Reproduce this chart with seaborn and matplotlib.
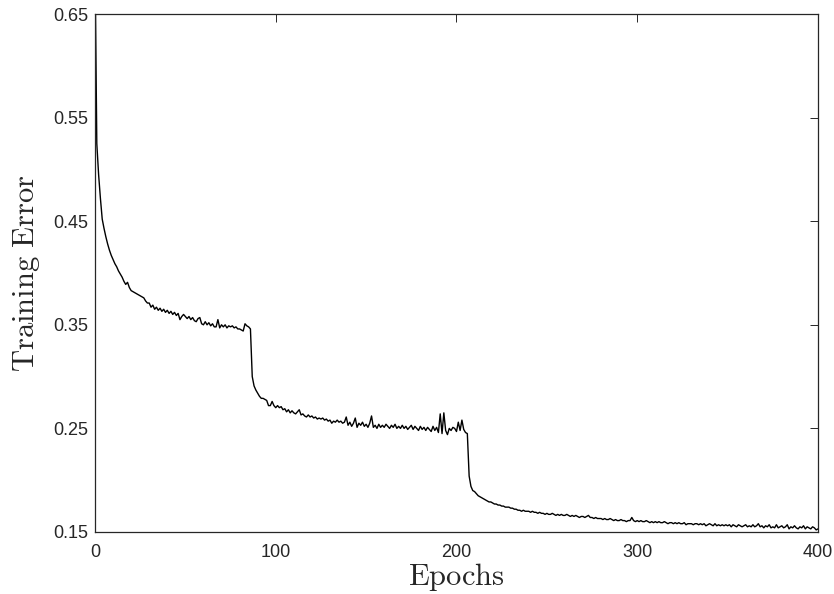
import numpy as np
import pandas as pd
import seaborn as sns
import matplotlib
matplotlib.use("Agg")
import matplotlib.pyplot as plt

# training error per epoch
# phase 1: epochs 0-86
err_phase1 = [
    0.700, 0.525, 0.495, 0.472, 0.452, 0.443, 0.435, 0.428, 0.422, 0.417,
    0.413, 0.409, 0.406, 0.402, 0.399, 0.396, 0.392, 0.389, 0.391, 0.386,
    0.383, 0.382, 0.381, 0.380, 0.379, 0.378, 0.377, 0.376, 0.373, 0.371,
    0.371, 0.367, 0.369, 0.365, 0.367, 0.364, 0.366, 0.363, 0.365, 0.362,
    0.364, 0.361, 0.363, 0.360, 0.362, 0.359, 0.361, 0.355, 0.358, 0.360,
    0.358, 0.356, 0.358, 0.355, 0.357, 0.354, 0.353, 0.356, 0.357, 0.351,
    0.350, 0.353, 0.350, 0.352, 0.349, 0.351, 0.348, 0.348, 0.355, 0.347,
    0.350, 0.348, 0.350, 0.347, 0.349, 0.348, 0.349, 0.347, 0.348, 0.346,
    0.346, 0.345, 0.344, 0.351, 0.349, 0.348, 0.346,
]
# phase 2: epochs 87-206
err_phase2 = [
    0.300, 0.291, 0.287,
    0.284, 0.281, 0.279, 0.279, 0.278, 0.277, 0.272, 0.272, 0.276, 0.272,
    0.270, 0.272, 0.270, 0.271, 0.268, 0.269, 0.266, 0.268, 0.265, 0.267,
    0.265, 0.264, 0.266, 0.268, 0.263, 0.264, 0.262, 0.261, 0.263, 0.261,
    0.262, 0.260, 0.261, 0.259, 0.260, 0.259, 0.260, 0.258, 0.259, 0.257,
    0.258, 0.255, 0.257, 0.256, 0.258, 0.256, 0.257, 0.255, 0.256, 0.261,
    0.253, 0.256, 0.252, 0.255, 0.260, 0.251, 0.255, 0.253, 0.256, 0.252,
    0.254, 0.251, 0.255, 0.262, 0.251, 0.253, 0.250, 0.254, 0.251, 0.253,
    0.251, 0.254, 0.252, 0.250, 0.253, 0.251, 0.254, 0.250, 0.252, 0.250,
    0.253, 0.250, 0.252, 0.249, 0.251, 0.253, 0.249, 0.252, 0.250, 0.248,
    0.252, 0.249, 0.251, 0.248, 0.251, 0.249, 0.247, 0.252, 0.248, 0.251,
    0.246, 0.264, 0.245, 0.265, 0.248, 0.244, 0.250, 0.248, 0.251, 0.250,
    0.247, 0.256, 0.248, 0.258, 0.249, 0.246, 0.245,
]
# phase 3: epochs 207-400
err_phase3 = [
    0.204, 0.194, 0.190,
    0.189, 0.187, 0.185, 0.184, 0.183, 0.182, 0.181, 0.180, 0.179, 0.179,
    0.178, 0.177, 0.177, 0.176, 0.176, 0.175, 0.175, 0.174, 0.174, 0.174,
    0.173, 0.173, 0.172, 0.172, 0.171, 0.171, 0.170, 0.171, 0.170, 0.170,
    0.170, 0.169, 0.170, 0.169, 0.169, 0.168, 0.169, 0.168, 0.168, 0.167,
    0.168, 0.167, 0.167, 0.168, 0.167, 0.166, 0.167, 0.166, 0.167, 0.166,
    0.166, 0.167, 0.166, 0.165, 0.166, 0.165, 0.166, 0.165, 0.164, 0.165,
    0.165, 0.164, 0.165, 0.166, 0.164, 0.164, 0.163, 0.164, 0.163, 0.163,
    0.163, 0.162, 0.163, 0.162, 0.162, 0.163, 0.162, 0.161, 0.162, 0.161,
    0.161, 0.162, 0.161, 0.161, 0.160, 0.161, 0.161, 0.164, 0.161, 0.160,
    0.161, 0.160, 0.161, 0.160, 0.160, 0.161, 0.160, 0.159, 0.160, 0.159,
    0.160, 0.159, 0.160, 0.159, 0.159, 0.160, 0.159, 0.158, 0.159, 0.159,
    0.158, 0.159, 0.158, 0.159, 0.158, 0.158, 0.159, 0.157, 0.158, 0.158,
    0.158, 0.157, 0.158, 0.158, 0.157, 0.158, 0.157, 0.158, 0.156, 0.157,
    0.158, 0.157, 0.156, 0.158, 0.156, 0.157, 0.156, 0.157, 0.156, 0.157,
    0.156, 0.157, 0.155, 0.157, 0.156, 0.155, 0.157, 0.156, 0.155, 0.156,
    0.157, 0.155, 0.156, 0.155, 0.157, 0.155, 0.156, 0.158, 0.155, 0.156,
    0.154, 0.156, 0.155, 0.157, 0.154, 0.155, 0.154, 0.157, 0.154, 0.155,
    0.156, 0.154, 0.155, 0.157, 0.153, 0.155, 0.154, 0.156, 0.154, 0.153,
    0.155, 0.154, 0.156, 0.153, 0.155, 0.154, 0.153, 0.155, 0.154, 0.152,
    0.153,
]

x_ticks = [0, 100, 200, 300, 400]
y_ticks = [0.15, 0.25, 0.35, 0.45, 0.55, 0.65]

err = err_phase1 + err_phase2 + err_phase3
df = pd.DataFrame({"Epoch": np.arange(len(err)), "Error": err})

sns.set_theme(style="white")
plt.rcParams["font.family"] = ["Liberation Sans", "DejaVu Sans"]
plt.rcParams["mathtext.fontset"] = "cm"

fig = plt.figure(figsize=(8.34, 5.94), dpi=100)
ax = fig.add_axes([0.1139, 0.1044, 0.8669, 0.872])

sns.lineplot(data=df, x="Epoch", y="Error", color="black", linewidth=1.0, ax=ax)

ax.set_xlim(0, 400)
ax.set_ylim(0.15, 0.65)
ax.set_xticks(x_ticks)
ax.set_yticks(y_ticks)
ax.set_xticklabels([str(t) for t in x_ticks])
ax.set_yticklabels([f"{t:.2f}" for t in y_ticks])

for s in ax.spines.values():
    s.set_visible(True)
    s.set_color("#262626")
    s.set_linewidth(0.9)

ax.tick_params(axis="both", which="major", direction="in", length=6, width=0.7,
               colors="#262626", labelsize=13, top=True, right=True)
ax.tick_params(axis="x", pad=9)
ax.tick_params(axis="y", pad=5)

ax.set_xlabel(r"$\mathrm{Epochs}$", fontsize=22, labelpad=0)
ax.set_ylabel(r"$\mathrm{Training\ Error}$", fontsize=22, labelpad=8)

fig.savefig("out.png", dpi=100)
